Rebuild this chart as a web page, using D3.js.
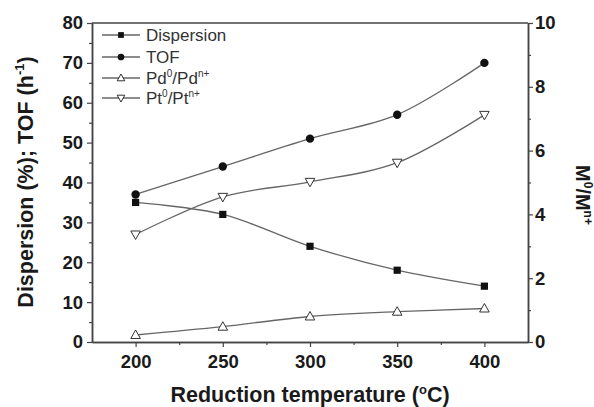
<!DOCTYPE html>
<html>
<head>
<meta charset="utf-8">
<script src="https://cdn.jsdelivr.net/npm/d3@7"></script>
<style>
  body { margin: 0; background: #fff; }
  text { font-family: "Liberation Sans", Arial, sans-serif; }
</style>
</head>
<body>
<div id="chart"></div>
<script>
// values
const temps = [200, 250, 300, 350, 400]
const dispersion = [35, 32, 24, 18, 14]
const tof = [37, 44, 51, 57, 70]
const pdRatio = [0.22, 0.48, 0.8, 0.95, 1.05]
const ptRatio = [3.37, 4.55, 5.02, 5.62, 7.12]
const xTicks = [200, 250, 300, 350, 400]
const yLeftTicks = [0, 10, 20, 30, 40, 50, 60, 70, 80]
const yRightTicks = [0, 2, 4, 6, 8, 10]

const width = 594, height = 407
const margin = {top: 23, right: 66, bottom: 65, left: 92}
const ink = "#444"
const lineCol = "#666"

const svg = d3.select("#chart").append("svg")
    .attr("width", width)
    .attr("height", height)

const x = d3.scaleLinear().domain([175, 425]).range([margin.left, width - margin.right])
const yL = d3.scaleLinear().domain([0, 80]).range([height - margin.bottom, margin.top])
const yR = d3.scaleLinear().domain([0, 10]).range([height - margin.bottom, margin.top])

// axes
const bottom = svg.append("g")
    .attr("transform", `translate(0,${height - margin.bottom})`)
    .call(d3.axisBottom(x).tickValues(xTicks).tickSize(5).tickSizeOuter(0))
svg.append("g")
    .attr("transform", `translate(0,${height - margin.bottom})`)
    .call(d3.axisBottom(x).tickValues([225, 275, 325, 375]).tickSize(3).tickFormat("").tickSizeOuter(0))

const left = svg.append("g")
    .attr("transform", `translate(${margin.left},0)`)
    .call(d3.axisLeft(yL).tickValues(yLeftTicks).tickSize(5).tickSizeOuter(0))
svg.append("g")
    .attr("transform", `translate(${margin.left},0)`)
    .call(d3.axisLeft(yL).tickValues(d3.range(5, 80, 10)).tickSize(3).tickFormat("").tickSizeOuter(0))

const right = svg.append("g")
    .attr("transform", `translate(${width - margin.right},0)`)
    .call(d3.axisRight(yR).tickValues(yRightTicks).tickSize(5).tickSizeOuter(0))
svg.append("g")
    .attr("transform", `translate(${width - margin.right},0)`)
    .call(d3.axisRight(yR).tickValues(d3.range(1, 10, 2)).tickSize(3).tickFormat("").tickSizeOuter(0))

// top frame
svg.append("line")
    .attr("x1", margin.left).attr("x2", width - margin.right)
    .attr("y1", margin.top).attr("y2", margin.top)
    .attr("stroke", ink).attr("stroke-width", 1.5)

svg.selectAll(".domain").attr("stroke", ink).attr("stroke-width", 1.5)
svg.selectAll(".tick line").attr("stroke", ink).attr("stroke-width", 1.2)
svg.selectAll(".tick text")
    .attr("font-size", 18.5).attr("font-weight", "bold").attr("fill", "#1a1a1a")
bottom.selectAll(".tick text").attr("y", 8).attr("dy", "0.95em")
left.selectAll(".tick text").attr("x", -9)
right.selectAll(".tick text").attr("x", 7)

// series
const series = [
    {name: "Dispersion", values: dispersion, y: yL, shape: "square"},
    {name: "TOF", values: tof, y: yL, shape: "circle"},
    {name: "Pd", values: pdRatio, y: yR, shape: "up"},
    {name: "Pt", values: ptRatio, y: yR, shape: "down"},
]

function drawMarker(g, shape, cx, cy, k) {
    if (shape === "square") {
        g.append("rect").attr("x", cx - 3.6 * k).attr("y", cy - 3.6 * k)
            .attr("width", 7.2 * k).attr("height", 7.2 * k).attr("fill", "#111")
    } else if (shape === "circle") {
        g.append("circle").attr("cx", cx).attr("cy", cy).attr("r", 4.2 * k).attr("fill", "#111")
    } else if (shape === "up") {
        g.append("path").attr("d", `M${cx},${cy - 5 * k}L${cx + 4.8 * k},${cy + 3.5 * k}L${cx - 4.8 * k},${cy + 3.5 * k}Z`)
            .attr("fill", "#fff").attr("stroke", "#333").attr("stroke-width", 1)
    } else {
        g.append("path").attr("d", `M${cx},${cy + 5 * k}L${cx + 4.8 * k},${cy - 3.5 * k}L${cx - 4.8 * k},${cy - 3.5 * k}Z`)
            .attr("fill", "#fff").attr("stroke", "#333").attr("stroke-width", 1)
    }
}

series.forEach(s => {
    const line = d3.line()
        .x((d, i) => x(temps[i]))
        .y(d => s.y(d))
        .curve(d3.curveCatmullRom.alpha(0.5))
    svg.append("path")
        .datum(s.values)
        .attr("d", line)
        .attr("fill", "none")
        .attr("stroke", lineCol)
        .attr("stroke-width", 1.3)
    const g = svg.append("g")
    s.values.forEach((v, i) => drawMarker(g, s.shape, x(temps[i]), s.y(v), 1))
})

// legend
const legendY = [35, 57, 78, 98]
series.forEach((s, i) => {
    const g = svg.append("g")
    g.append("line").attr("x1", 102).attr("x2", 140)
        .attr("y1", legendY[i]).attr("y2", legendY[i])
        .attr("stroke", lineCol).attr("stroke-width", 1.3)
    drawMarker(g, s.shape, 121, legendY[i], 0.8)
    const t = g.append("text").attr("x", 146).attr("y", legendY[i] + 6)
        .attr("font-size", 17).attr("fill", "#333")
    if (s.shape === "up" || s.shape === "down") {
        t.append("tspan").text(s.name)
        t.append("tspan").text("0").attr("font-size", 10).attr("dy", -7)
        t.append("tspan").text("/" + s.name).attr("dy", 7)
        t.append("tspan").text("n+").attr("font-size", 10).attr("dy", -7)
    } else {
        t.text(s.name)
    }
})

// axis titles
const yTitle = svg.append("text")
    .attr("transform", `translate(33,182) rotate(-90)`)
    .attr("text-anchor", "middle")
    .attr("font-size", 21.5).attr("font-weight", "bold").attr("fill", "#1a1a1a")
yTitle.append("tspan").text("Dispersion (%); TOF (h")
yTitle.append("tspan").text("-1").attr("font-size", 13).attr("dy", -9)
yTitle.append("tspan").text(")").attr("dy", 9)

const xTitle = svg.append("text")
    .attr("x", 310)
    .attr("y", 402)
    .attr("text-anchor", "middle")
    .attr("font-size", 21.5).attr("font-weight", "bold").attr("fill", "#1a1a1a")
xTitle.append("tspan").text("Reduction temperature (")
xTitle.append("tspan").text("o").attr("font-size", 13).attr("dy", -8)
xTitle.append("tspan").text("C)").attr("dy", 8)

const rTitle = svg.append("text")
    .attr("transform", `translate(576,195) rotate(90)`)
    .attr("text-anchor", "middle")
    .attr("font-size", 20).attr("font-weight", "bold").attr("fill", "#1a1a1a")
rTitle.append("tspan").text("M")
rTitle.append("tspan").text("0").attr("font-size", 12).attr("dy", -8)
rTitle.append("tspan").text("/M").attr("dy", 8)
rTitle.append("tspan").text("n+").attr("font-size", 12).attr("dy", -8)
</script>
</body>
</html>
